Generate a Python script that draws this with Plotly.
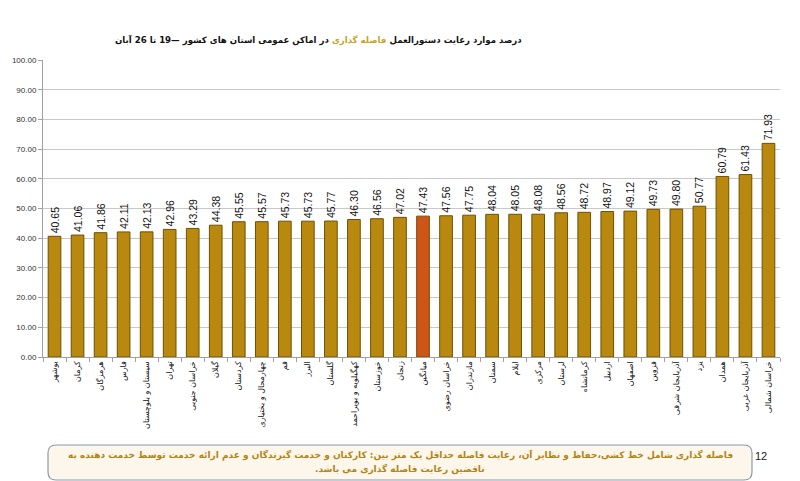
import plotly.graph_objects as go

provinces = ["بوشهر", "کرمان", "هرمزگان", "فارس", "سیستان و بلوچستان", "تهران",
             "خراسان جنوبی", "گیلان", "کردستان", "چهارمحال و بختیاری", "قم", "البرز",
             "گلستان", "کهگیلویه و بویراحمد", "خوزستان", "زنجان", "میانگین",
             "خراسان رضوی", "مازندران", "سمنان", "ایلام", "مرکزی", "لرستان",
             "کرمانشاه", "اردبیل", "اصفهان", "قزوین", "آذربایجان شرقی", "یزد",
             "همدان", "آذربایجان غربی", "خراسان شمالی"]
values = [40.65, 41.06, 41.86, 42.11, 42.13, 42.96, 43.29, 44.38, 45.55, 45.57,
          45.73, 45.73, 45.77, 46.30, 46.56, 47.02, 47.43, 47.56, 47.75, 48.04,
          48.05, 48.08, 48.56, 48.72, 48.97, 49.12, 49.73, 49.80, 50.77, 60.79,
          61.43, 71.93]
highlight = "میانگین"

title_a = "درصد موارد رعایت دستورالعمل "
title_b = "فاصله گذاری"
title_c = " در اماکن عمومی استان های کشور —19 تا 26 آبان"
note_1 = "فاصله گذاری شامل خط کشی،حفاظ و نظایر آن، رعایت فاصله حداقل یک متر بین: کارکنان و خدمت گیرندگان و عدم ارائه خدمت توسط خدمت دهنده به"
note_2 = "ناقضین رعایت فاصله گذاری می باشد."
page_no = "12"

gold = "#B8890E"
red = "#CF5418"
colors = [red if p == highlight else gold for p in provinces]

fig = go.Figure()
fig.add_trace(go.Bar(
    x=provinces, y=values,
    marker=dict(color=colors, line=dict(color="#6E5000", width=1)),
    width=0.55,
    text=[f"{v:.2f}" for v in values],
    textposition="outside", textangle=-90, constraintext="none",
    textfont=dict(size=10.5, color="#111", family="Liberation Sans"),
    cliponaxis=False,
))

L, R, T, B = 43, 20, 60, 124
W, H = 800 - L - R, 481 - T - B

def px2paper(px, py):
    return (px - L) / W, (481 - B - py) / H

fig.update_layout(
    width=800, height=481,
    margin=dict(l=L, r=R, t=T, b=B),
    paper_bgcolor="white", plot_bgcolor="white",
    showlegend=False, bargap=0.45,
    font=dict(family="DejaVu Sans", color="#222"),
    xaxis=dict(
        type="category", tickangle=-90, tickfont=dict(size=8, color="#111"),
        showline=True, linecolor="#A0A0A0", ticks="outside", tickson="boundaries",
        ticklen=4, tickcolor="#A0A0A0", showgrid=False,
    ),
    yaxis=dict(
        range=[0, 100], dtick=10, tickformat=".2f",
        tickfont=dict(size=8, color="#333", family="Liberation Sans"),
        showline=True, linecolor="#A0A0A0", ticks="outside", ticklen=4,
        tickcolor="#A0A0A0", gridcolor="#C8C8C8", gridwidth=1, zeroline=False,
    ),
)

# title
tx, ty = px2paper(318, 40)
fig.add_annotation(
    x=tx, y=ty, xref="paper", yref="paper", showarrow=False,
    xanchor="center", yanchor="middle",
    text="<b>\u200f" + title_a + f"<span style='color:#C9A227'>{title_b}</span>" + title_c + "</b>",
    font=dict(size=8.6, color="#111", family="DejaVu Sans"),
)

# note box (rounded)
x0, y0 = px2paper(48, 480)
x1, y1 = px2paper(752, 445)
rx, ry = 8 / W, 8 / H
path = (f"M {x0+rx},{y1} L {x1-rx},{y1} Q {x1},{y1} {x1},{y1-ry} "
        f"L {x1},{y0+ry} Q {x1},{y0} {x1-rx},{y0} L {x0+rx},{y0} "
        f"Q {x0},{y0} {x0},{y0+ry} L {x0},{y1-ry} Q {x0},{y1} {x0+rx},{y1} Z")
fig.add_shape(type="path", path=path, xref="paper", yref="paper",
              fillcolor="#FDF6EA", line=dict(color="#8C9AAE", width=1.2))

nx, ny1 = px2paper(400, 455)
_, ny2 = px2paper(400, 469)
for txt, yy in [(note_1, ny1), (note_2 + "\u200f", ny2)]:
    fig.add_annotation(
        x=nx, y=yy, xref="paper", yref="paper", showarrow=False,
        xanchor="center", yanchor="middle", text="<b>" + txt + "</b>",
        font=dict(size=9, color="#B08518", family="DejaVu Sans"),
    )

px_, py_ = px2paper(769, 464)
fig.add_annotation(x=px_, y=py_, xref="paper", yref="paper", showarrow=False,
                   text=page_no, font=dict(size=11, color="#222", family="Liberation Sans"))

fig.write_html("out.html")
